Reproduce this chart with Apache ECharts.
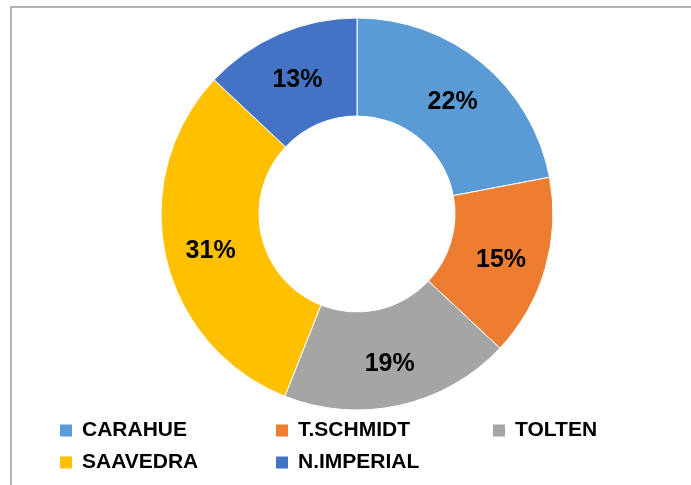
<!DOCTYPE html>
<html>
<head>
<meta charset="utf-8">
<script src="https://cdn.jsdelivr.net/npm/echarts@6/dist/echarts.min.js"></script>
<style>
  html, body { margin: 0; padding: 0; background: #fff; }
  #chart { width: 691px; height: 485px; }
</style>
</head>
<body>
<div id="chart"></div>
<script>
const comunas = ["CARAHUE", "T.SCHMIDT", "TOLTEN", "SAAVEDRA", "N.IMPERIAL"];
const porcentajes = [22, 15, 19, 31, 13];
const colores = ["#5b9bd5", "#ed7d31", "#a5a5a5", "#ffc000", "#4472c4"];

// legend columns, as laid out in the reference
const legendCols = [
  ["CARAHUE", "SAAVEDRA"],
  ["T.SCHMIDT", "N.IMPERIAL"],
  ["TOLTEN"],
];
const legendLeft = [60, 276, 493];

const font = '"Liberation Sans", Arial, sans-serif';

const chart = echarts.init(document.getElementById("chart"), null, { renderer: "canvas" });

chart.setOption({
  animation: false,
  color: colores,
  graphic: [
    {
      type: "polyline",
      shape: { points: [[11, 485], [11, 7], [691, 7]] },
      style: { stroke: "#b3b3b3", lineWidth: 2, fill: null },
      silent: true,
    },
  ],
  legend: legendCols.map((items, i) => ({
    data: items,
    orient: "vertical",
    left: legendLeft[i],
    top: 420,
    padding: 0,
    itemGap: 11,
    itemWidth: 12,
    itemHeight: 12,
    icon: "rect",
    itemStyle: { borderWidth: 0 },
    textStyle: {
      color: "#000",
      fontFamily: font,
      fontSize: 21,
      fontWeight: "bold",
      lineHeight: 21,
      padding: [0, 0, 0, 5],
    },
  })),
  series: [
    {
      type: "pie",
      center: [357, 214],
      radius: [98, 196],
      startAngle: 90,
      clockwise: true,
      itemStyle: { borderColor: "#fff", borderWidth: 1 },
      label: {
        show: true,
        position: "inside",
        formatter: "{c}%",
        color: "#000",
        fontFamily: font,
        fontSize: 25,
        fontWeight: "bold",
        textBorderWidth: 0,
        offset: [0, 4],
      },
      labelLine: { show: false },
      emphasis: { disabled: true },
      data: comunas.map((name, i) => ({ name: name, value: porcentajes[i] })),
    },
  ],
});
</script>
</body>
</html>
